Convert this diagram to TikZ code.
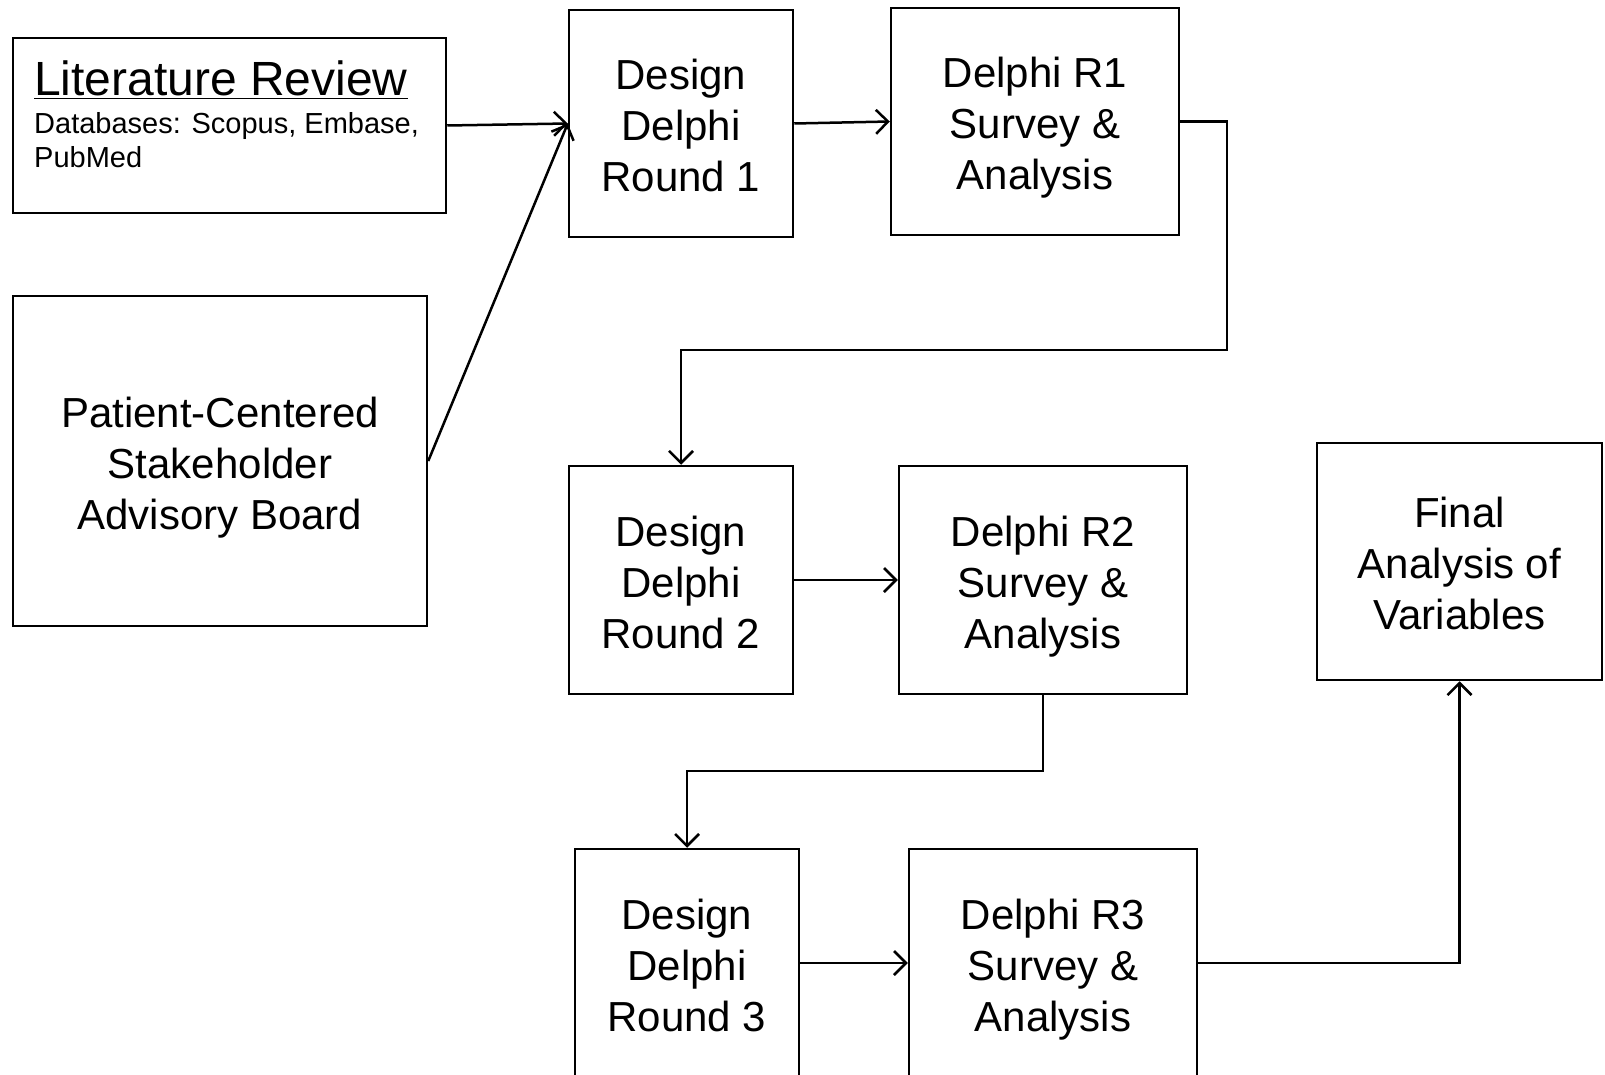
\documentclass[tikz,border=0pt]{standalone}
\usepackage{fontspec}
\setmainfont{Liberation Sans}
\usetikzlibrary{arrows.meta}
\newcommand\firstln{\rule{0pt}{44pt}}

\begin{document}
\begin{tikzpicture}[x=1pt,y=-1pt]
\tikzstyle{every node}+=[inner sep=0pt]
\tikzstyle{blk}=[draw, line width=2.5pt, align=center, font=\fontsize{42}{51}\selectfont,
  execute at end node={\rule[-10pt]{0pt}{10pt}}]
\tikzstyle{conn}=[line width=2.5pt, -{Straight Barb[length=12pt,width=24pt]}]
\useasboundingbox (0,0) rectangle (1605,1075);
% left column
\node [draw, line width=2.5pt, minimum width=433, minimum height=175] (lit) at (229.5,125.5) {};
\node [anchor=base west, font=\fontsize{48}{58}\selectfont] (littitle) at (34,96) {\underline{Literature Review}};
\node [anchor=base west, align=left, font=\fontsize{29}{34}\selectfont] (litdb) at (34,168) {Databases: Scopus, Embase,\\PubMed};
\node [blk, minimum width=414, minimum height=330] (pat) at (220,461) {\firstln Patient-Centered\\Stakeholder\\Advisory Board};
% rounds
\node [blk, minimum width=224, minimum height=227] (d1) at (681,123.5) {\firstln Design\\Delphi\\Round 1};
\node [blk, minimum width=288, minimum height=227] (r1) at (1035,121.5) {\firstln Delphi R1\\Survey \&\\Analysis};
\node [blk, minimum width=224, minimum height=228] (d2) at (681,580) {\firstln Design\\Delphi\\Round 2};
\node [blk, minimum width=288, minimum height=228] (r2) at (1043,580) {\firstln Delphi R2\\Survey \&\\Analysis};
\node [blk, minimum width=224, minimum height=228] (d3) at (687,963) {\firstln Design\\Delphi\\Round 3};
\node [blk, minimum width=288, minimum height=228] (r3) at (1053,963) {\firstln Delphi R3\\Survey \&\\Analysis};
\node [blk, minimum width=285, minimum height=237] (fin) at (1459.5,561.5) {\firstln Final\\Analysis of\\Variables};
\coordinate (bend1) at (1227,350);
\coordinate (bend2) at (1043,771);
% connectors
\draw [conn] (lit.east) -- (d1.west);
\draw [conn] (pat.east) -- (d1.west);
\draw [conn] (d1.east) -- (r1.west);
\draw [conn] (r1.east) -| (bend1) -| (d2.north);
\draw [conn] (d2.east) -- (r2.west);
\draw [conn] (r2.south) -- (bend2) -| (d3.north);
\draw [conn] (d3.east) -- (r3.west);
\draw [conn] (r3.east) -| (fin.south);
\end{tikzpicture}
\end{document}
